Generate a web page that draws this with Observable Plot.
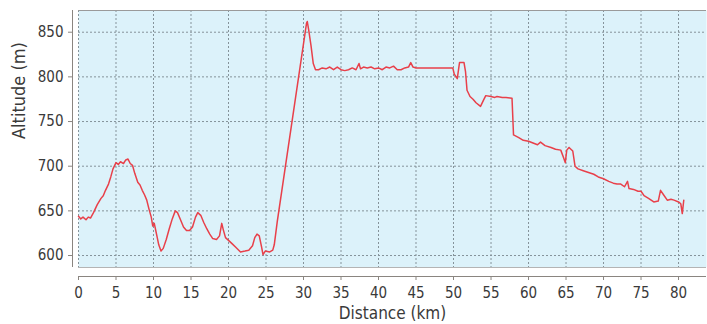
<!DOCTYPE html>
<html><head><meta charset="utf-8">
<script src="https://cdn.jsdelivr.net/npm/d3@7"></script>
<script src="https://cdn.jsdelivr.net/npm/@observablehq/plot@0.6"></script>
<style>body{margin:0;background:#fff;}</style>
</head><body><div id="chart"></div>
<script>
const distanceKm = [0.0,0.3,0.6,1.0,1.3,1.6,2.0,2.5,3.0,3.3,3.6,4.0,4.3,4.6,5.0,5.3,5.6,6.0,6.3,6.6,6.9,7.2,7.5,7.9,8.2,8.5,8.8,9.1,9.4,9.7,9.9,10.1,10.3,10.5,10.7,11.0,11.3,11.7,12.1,12.5,12.9,13.2,13.6,14.0,14.4,14.8,15.2,15.6,15.9,16.3,16.7,17.1,17.5,17.9,18.4,18.8,19.1,19.3,19.6,20.0,20.5,21.0,21.6,22.2,22.7,23.2,23.5,23.8,24.1,24.4,24.6,24.9,25.5,25.9,26.1,26.5,30.4,30.5,30.7,31.0,31.3,31.6,32.0,32.5,33.0,33.5,34.0,34.5,35.0,35.5,36.0,36.5,37.0,37.4,37.6,38.0,38.5,39.0,39.5,40.0,40.5,41.0,41.5,42.0,42.5,43.0,43.5,44.0,44.3,44.6,45.0,46.0,47.0,48.0,49.0,49.9,50.1,50.5,50.8,51.4,51.6,51.8,52.2,52.6,53.0,53.6,54.0,54.3,55.0,55.5,55.8,56.5,57.0,57.8,58.0,58.7,59.3,60.0,60.6,61.2,61.6,62.2,63.0,63.6,64.3,64.7,64.9,65.1,65.4,65.9,66.2,66.6,67.3,68.0,68.7,69.3,70.0,70.7,71.3,71.8,72.3,72.8,73.2,73.4,74.0,74.6,75.0,75.4,76.0,76.7,77.3,77.6,78.0,78.5,79.0,79.4,80.0,80.3,80.5,80.7];
const altitudeM = [644,641,643,640,643,642,648,657,664,667,673,680,688,697,704,702,705,703,707,708,703,701,692,682,679,673,668,662,652,643,633,636,628,620,612,605,608,618,630,641,650,648,640,632,628,628,632,643,648,645,637,630,624,619,618,622,636,629,620,617,613,609,604,605,606,611,620,624,622,610,601,605,604,606,612,638,860,862,852,835,815,808,808,810,809,811,808,811,808,807,808,810,808,815,809,811,810,811,809,810,808,811,810,812,808,808,810,811,816,811,810,810,810,810,810,810,803,798,816,816,806,785,778,775,771,767,774,779,778,777,778,777,777,776,735,732,729,728,726,724,727,723,721,719,718,709,704,718,721,717,700,697,695,693,691,688,686,683,681,680,680,677,683,675,674,672,672,667,664,660,661,673,668,662,663,662,660,658,647,662];
const xTicks = [0,5,10,15,20,25,30,35,40,45,50,55,60,65,70,75,80];
const yTicks = [600,650,700,750,800,850];
const xLabel = "Distance (km)";
const yLabel = "Altitude (m)";

const data = distanceKm.map((d, i) => ({d, a: altitudeM[i]}));
const yMin = 586.6, yMax = 874.3;

const chart = Plot.plot({
  width: 707, height: 324,
  marginLeft: 78, marginRight: 1, marginTop: 10, marginBottom: 57,
  style: {fontFamily: "'DejaVu Sans Condensed', 'DejaVu Sans', sans-serif", fontStretch: "condensed", fontSize: "15px", color: "#3a3a3a", background: "#fff", overflow: "visible"},
  x: {domain: [0, 83.73]},
  y: {domain: [yMin, yMax]},
  marks: [
    Plot.frame({fill: "#dcf2fa", stroke: null}),
    Plot.gridX(xTicks, {stroke: "#85939a", strokeOpacity: 1, strokeDasharray: "2,2"}),
    Plot.gridY(yTicks, {stroke: "#85939a", strokeOpacity: 1, strokeDasharray: "2,2"}),
    Plot.ruleY([yMax], {stroke: "#9a9a9a"}),
    Plot.ruleY([yMin], {stroke: "#b4b4b4"}),
    Plot.line(data, {x: "d", y: "a", stroke: "#e8404a", strokeWidth: 1.5}),
    Plot.ruleX([0], {dx: -6, stroke: "#8a8580"}),
    Plot.ruleY([yMin], {dy: 9, stroke: "#8a8580"}),
    Plot.axisX(xTicks, {tickSize: 4, dy: 9, tickPadding: 7, label: null, stroke: "#8a8580"}),
    Plot.axisY(yTicks, {tickSize: 4, dx: -6, tickPadding: 5, label: null, stroke: "#8a8580"}),
    Plot.text([yLabel], {frameAnchor: "left", dx: -59, rotate: -90, fontSize: 18, fill: "#3a3a3a"}),
    Plot.text([xLabel], {frameAnchor: "bottom", dy: 39, lineAnchor: "top", fontSize: 17, fill: "#3a3a3a"})
  ]
});
document.getElementById("chart").append(chart);
</script>
</body></html>
